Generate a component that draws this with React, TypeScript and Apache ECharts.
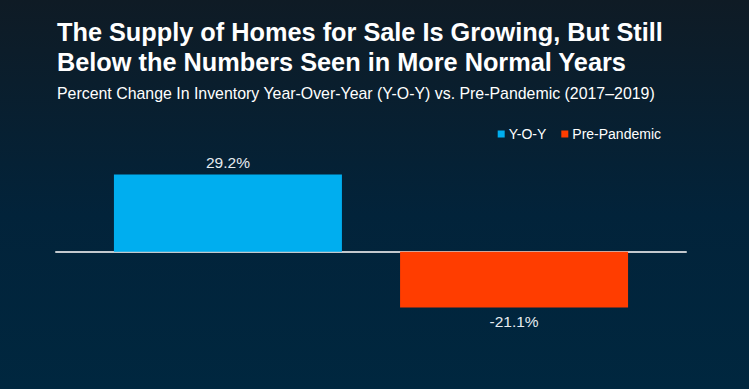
import React, { useEffect, useRef } from "react";
import * as echarts from "echarts";

const titleLines = [
  "The Supply of Homes for Sale Is Growing, But Still",
  "Below the Numbers Seen in More Normal Years",
];
const subtitle =
  "Percent Change In Inventory Year-Over-Year (Y-O-Y) vs. Pre-Pandemic (2017\u20132019)";
const categories = [""];
const seriesNames = ["Y-O-Y", "Pre-Pandemic"];
const yoyValues = [29.2];
const prePandemicValues = [-21.1];
const seriesColors = ["#00aeef", "#ff3d00"];

const FONT = "'Liberation Sans', Arial, Helvetica, sans-serif";

export default function App() {
  const ref = useRef<HTMLDivElement>(null);

  useEffect(() => {
    if (!ref.current) return;
    const chart = echarts.init(ref.current, null, { renderer: "svg" });
    const labelFmt = (p: any) => `${p.value}%`;
    chart.setOption({
      animation: false,
      backgroundColor: new echarts.graphic.LinearGradient(0, 0, 0, 1, [
        { offset: 0, color: "#0f1b25" },
        { offset: 0.55, color: "#02233a" },
        { offset: 1, color: "#00273f" },
      ]),
      title: [
        {
          text: titleLines.join("\n"),
          left: 57,
          top: 17,
          padding: 0,
          textStyle: {
            color: "#ffffff",
            fontFamily: FONT,
            fontWeight: "bold",
            fontSize: 25.3,
            lineHeight: 30,
          },
        },
        {
          text: subtitle,
          left: 57,
          top: 85,
          padding: 0,
          textStyle: {
            color: "#ffffff",
            fontFamily: FONT,
            fontWeight: "normal",
            fontSize: 15.9,
            lineHeight: 16,
          },
        },
      ],
      legend: {
        data: seriesNames,
        right: 88,
        top: 127,
        padding: 0,
        icon: "rect",
        itemWidth: 7,
        itemHeight: 7,
        itemGap: 15,
        textStyle: {
          color: "#ffffff",
          fontFamily: FONT,
          fontSize: 14,
          padding: [0, 0, 0, -1],
        },
      },
      grid: {
        left: 56,
        right: 63,
        top: 146,
        height: 185,
        containLabel: false,
      },
      xAxis: {
        type: "category",
        data: categories,
        axisLine: {
          show: true,
          onZero: true,
          lineStyle: { color: "#c3c8cd", width: 2 },
        },
        axisTick: { show: false },
        axisLabel: { show: false },
        splitLine: { show: false },
      },
      yAxis: {
        type: "value",
        min: -30,
        max: 40,
        show: false,
        splitLine: { show: false },
      },
      series: [
        {
          name: seriesNames[0],
          type: "bar",
          data: yoyValues,
          barWidth: 228,
          barGap: "25.5%",
          itemStyle: { color: seriesColors[0] },
          label: {
            show: true,
            position: "top",
            distance: 4,
            formatter: labelFmt,
            color: "#e6ecf0",
            fontFamily: FONT,
            fontSize: 15.5,
          },
          z: 1,
        },
        {
          name: seriesNames[1],
          type: "bar",
          data: prePandemicValues,
          barWidth: 228,
          itemStyle: { color: seriesColors[1] },
          label: {
            show: true,
            position: "bottom",
            distance: 6,
            formatter: labelFmt,
            color: "#e6ecf0",
            fontFamily: FONT,
            fontSize: 15.5,
          },
          z: 1,
        },
      ],
    });
    return () => chart.dispose();
  }, []);

  return (
    <div
      ref={ref}
      style={{ position: "absolute", left: 0, top: 0, width: 749, height: 389 }}
    />
  );
}
